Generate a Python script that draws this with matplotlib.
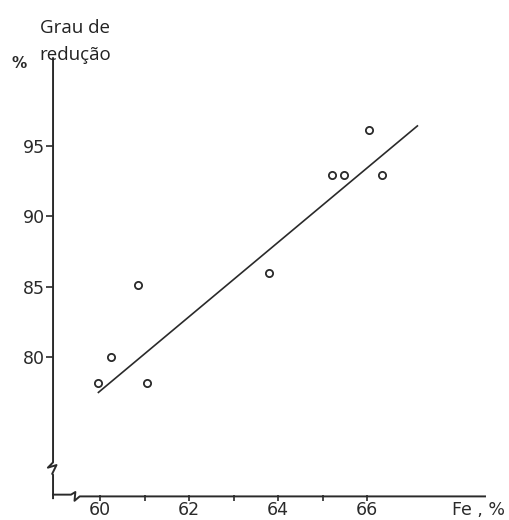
import matplotlib
matplotlib.use("Agg")
import matplotlib.pyplot as plt

# data
fe = [59.96, 60.25, 60.84, 61.06, 63.79, 65.21, 65.48, 66.04, 66.34]
reducao = [78.2, 80.0, 85.1, 78.2, 86.0, 92.9, 92.9, 96.1, 92.9]
fit_x = [59.96, 67.13]
fit_y = [77.5, 96.4]
xticks = [60, 62, 64, 66]
yticks = [80, 85, 90, 95]

ink = "#2a2a2a"

fig = plt.figure(figsize=(5.1, 5.2), dpi=100)
ax = fig.add_axes([0.104, 0.042, 0.847, 0.846])
ax.set_xlim(58.94, 68.65)
ax.set_ylim(70.0, 101.2)

ax.plot(fit_x, fit_y, color=ink, lw=1.2)
ax.plot(fe, reducao, 'o', mfc='white', mec=ink, mew=1.3, ms=5.2, ls='none')

for s in ax.spines.values():
    s.set_visible(False)

# axes drawn by hand so the breaks can be shown
T = ax.transAxes
yb = (72.1 - 70.0) / (101.2 - 70.0)
ax.plot([0, 0, -0.012, 0.008, -0.002, 0, 0],
        [1, yb + 0.014, yb + 0.002, yb + 0.008, yb - 0.012, yb - 0.014, 0],
        transform=T, color=ink, lw=1.4, clip_on=False)
xb = (59.5 - 58.94) / (68.65 - 58.94)
ax.plot([0, xb - 0.016, xb - 0.006, xb - 0.008, xb + 0.004, xb + 0.012, 1],
        [0.008, 0.008, 0.014, -0.006, 0.004, 0.004, 0.004],
        transform=T, color=ink, lw=1.4, clip_on=False)

ax.set_xticks(xticks)
ax.set_xticks([61, 63, 65], minor=True)
ax.set_yticks(yticks)
ax.tick_params(axis='x', which='both', direction='inout', length=4, width=1.2,
               color=ink, labelsize=12.5, labelcolor=ink, pad=0)
ax.tick_params(axis='y', direction='out', length=5, width=1.2,
               color=ink, labelsize=12.5, labelcolor=ink, pad=1)

fig.text(0.078, 1 - 33 / 520, "Grau de", ha='left', va='baseline', fontsize=13.5,
         family='Open Sans', color='#222')
fig.text(0.078, 1 - 60 / 520, "redução", ha='left', va='baseline', fontsize=13.5,
         family='Open Sans', color='#222')
fig.text(0.023, 1 - 63 / 520, "%", ha='left', va='center', fontsize=11,
         fontweight='bold', color=ink)
fig.text(0.99, 5 / 520, "Fe , %", ha='right', va='baseline', fontsize=12.5, color=ink)

fig.savefig("out.png", dpi=100)
